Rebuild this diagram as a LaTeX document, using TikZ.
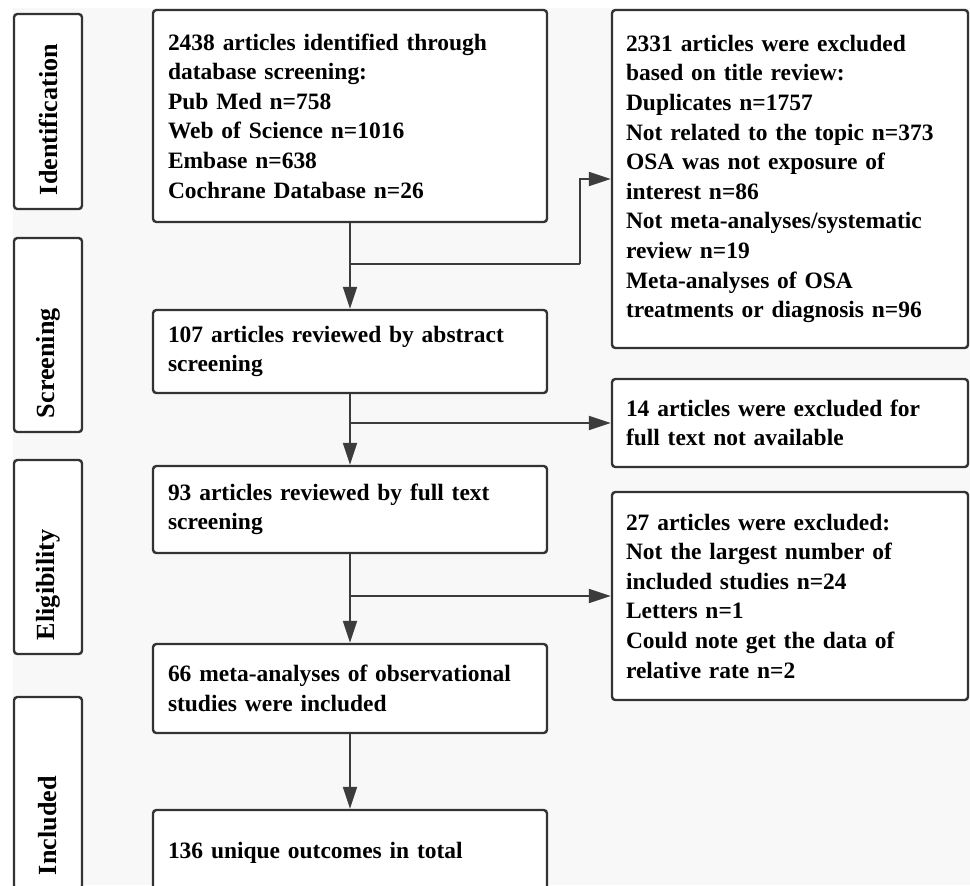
\documentclass[tikz,border=0pt]{standalone}
\usepackage{fontspec}
\setmainfont{Liberation Serif}
\usetikzlibrary{arrows.meta}

\definecolor{bggray}{HTML}{F8F8F8}
\definecolor{edgegray}{HTML}{333333}
\definecolor{linegray}{HTML}{3C3C3C}

\tikzset{
  mainbox/.style={draw=edgegray, line width=1.8pt, fill=white, rounded corners=2.5pt,
    text width=273pt, inner xsep=11.25pt, align=left, font=\fontsize{17.6pt}{22.2pt}\selectfont\bfseries},
  sidebox/.style={draw=edgegray, line width=1.8pt, fill=white, rounded corners=2.5pt,
    text width=246pt, inner xsep=10.5pt, align=left, font=\fontsize{17.6pt}{22.2pt}\selectfont\bfseries},
  stagebox/.style={draw=edgegray, line width=1.8pt, fill=white, rounded corners=2.5pt,
    rotate=90, minimum height=51pt, inner xsep=10.5pt, align=left, font=\fontsize{19.6pt}{22.2pt}\selectfont\bfseries},
  flow/.style={draw=linegray, line width=1.4pt, -{Triangle[length=16.5pt,width=10.5pt]}},
  link/.style={draw=linegray, line width=1.4pt}
}

\begin{document}
\begin{tikzpicture}[x=0.75pt,y=0.75pt,yscale=-1,xscale=1]
\useasboundingbox (0,0) rectangle (970,885);
\clip (0,0) rectangle (970,885);

%Shape: Background
\fill[bggray] (13,8) rectangle (970,885);

%Shape: Stage boxes
\node[stagebox, text width=125.25pt, minimum width=146.25pt] (ident) at (48,111.5) {Identification};
\node[stagebox, text width=124.5pt, minimum width=145.5pt] (screen) at (48,335) {Screening};
\node[stagebox, text width=124.5pt, minimum width=145.5pt] (elig) at (48,557) {Eligibility};
\node[stagebox, text width=123pt, minimum width=144pt] (incl) at (48,793) {Included};

%Shape: Main boxes
\node[mainbox, minimum height=159pt] (b1) at (350,116) {2438 articles identified through\\database screening:\\Pub Med n=758\\Web of Science n=1016\\Embase n=638\\Cochrane Database n=26};
\node[mainbox, minimum height=62.25pt] (b2) at (350,351.5) {107 articles reviewed by abstract\\screening};
\node[mainbox, minimum height=65.25pt] (b3) at (350,509.5) {93 articles reviewed by full text\\screening};
\node[mainbox, minimum height=66.75pt] (b4) at (350,688.5) {66 meta-analyses of observational\\studies were included};
\node[mainbox, minimum height=64.5pt] (b5) at (350,853) {136 unique outcomes in total};

%Shape: Exclusion boxes
\node[sidebox, minimum height=253.5pt] (x1) at (790,179) {2331 articles were excluded\\based on title review:\\Duplicates n=1757\\Not related to the topic n=373\\OSA was not exposure of\\interest n=86\\Not meta-analyses/systematic\\review n=19\\Meta-analyses of OSA\\treatments or diagnosis n=96};
\node[sidebox, minimum height=66pt] (x2) at (790,423) {14 articles were excluded for\\full text not available};
\node[sidebox, minimum height=156pt] (x3) at (790,596) {27 articles were excluded:\\Not the largest number of\\included studies n=24\\Letters n=1\\Could note get the data of\\relative rate n=2};

%Straight Lines
\coordinate (j1) at (350,264);
\coordinate (k1) at (580,264);
\draw[flow] (b1) -- (b2);
\draw[flow] (b2) -- (b3);
\draw[flow] (b3) -- (b4);
\draw[flow] (b4) -- (b5);
\draw[link] (j1) -- (k1);
\draw[flow] (k1) |- (x1.west);
\draw[flow] (b2.south |- x2.west) -- (x2.west);
\draw[flow] (b3.south |- x3.west) -- (x3.west);
\end{tikzpicture}
\end{document}
